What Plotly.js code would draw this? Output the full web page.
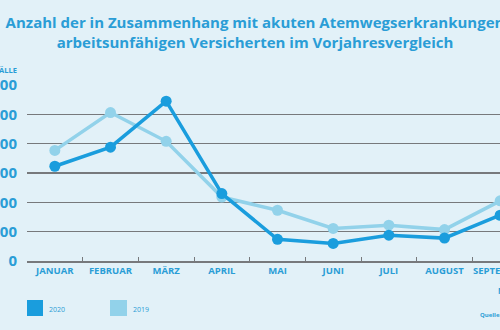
<!DOCTYPE html>
<html>
<head>
<meta charset="utf-8">
<script src="https://cdn.plot.ly/plotly-3.0.1.min.js"></script>
<style>
html,body{margin:0;padding:0;width:500px;height:330px;overflow:hidden;background:#e2f1f8;}
#chart{position:absolute;left:-30px;top:0;width:570px;height:330px;}
</style>
</head>
<body>
<div id="chart"></div>
<script>
const months = ["JANUAR","FEBRUAR","MÄRZ","APRIL","MAI","JUNI","JULI","AUGUST","SEPTEMBER"];
const series2020 = [323, 388, 545, 230, 74, 60, 88, 78, 156];
const series2019 = [377, 506, 408, 218, 173, 111, 122, 107, 205];
const yTickVals = [0, 100, 200, 300, 400, 500, 600];
const yTickText = ["0", "100", "200", "300", "400", "500", "600"];
const seriesNames = ["2020", "2019"];

const W = 570, H = 330, ML = 57, MR = 12, MT = 85, MB = 69;
const fx = x => (x - ML) / (W - ML - MR);
const fy = y => (H - MB - y) / (H - MT - MB);
const off = 30; // page offset

const c2020 = "#1a9ddd", c2019 = "#92d2ea", textC = "#2a9dd6";
const font = "Open Sans, Lato, sans-serif";

const traces = [
  {x: months, y: series2019, name: seriesNames[1], type: "scatter", mode: "lines+markers",
   line: {color: c2019, width: 3.5}, marker: {color: c2019, size: 11}, cliponaxis: false, showlegend: false},
  {x: months, y: series2020, name: seriesNames[0], type: "scatter", mode: "lines+markers",
   line: {color: c2020, width: 3.5}, marker: {color: c2020, size: 11}, cliponaxis: false, showlegend: false}
];

const layout = {
  width: W, height: H,
  margin: {l: ML, r: MR, t: MT, b: MB, pad: 0},
  paper_bgcolor: "#e2f1f8", plot_bgcolor: "#e2f1f8",
  title: {text: "<b>Anzahl der in Zusammenhang mit akuten Atemwegserkrankungen<br>arbeitsunfähigen Versicherten im Vorjahresvergleich</b>",
    font: {family: font, size: 15, color: textC}, x: 0.5, xref: "container", xanchor: "center",
    y: 1 - 28 / H, yref: "container", yanchor: "top"},
  xaxis: {type: "category", range: [-0.5, 8.5], showgrid: false, zeroline: false,
    showline: true, linecolor: "#77797c", linewidth: 1.5,
    ticks: "inside", ticklen: 4, tickcolor: "#77797c", tickwidth: 1, tickson: "boundaries",
    tickangle: 0,
    tickfont: {family: font, size: 9.5, color: textC, weight: "bold"}},
  yaxis: {range: [0, 600], tickvals: yTickVals, ticktext: yTickText, showgrid: true,
    gridcolor: "#77797c", gridwidth: 1.5, zeroline: false, showline: false, ticks: "",
    ticklabelstandoff: 9,
    tickfont: {family: font, size: 15, color: textC, weight: "bold"}},
  showlegend: false,
  shapes: [
    {type: "rect", xref: "paper", yref: "paper", x0: fx(27 + off), x1: fx(43 + off), y0: fy(316), y1: fy(300), fillcolor: c2020, line: {width: 0}},
    {type: "rect", xref: "paper", yref: "paper", x0: fx(110 + off), x1: fx(127 + off), y0: fy(316), y1: fy(300), fillcolor: c2019, line: {width: 0}}
  ],
  annotations: [
    {text: seriesNames[0], xref: "paper", yref: "paper", x: fx(47 + off), y: fy(309), xanchor: "left", yanchor: "middle", showarrow: false,
     font: {family: font, size: 7, color: textC}},
    {text: seriesNames[1], xref: "paper", yref: "paper", x: fx(131 + off), y: fy(309), xanchor: "left", yanchor: "middle", showarrow: false,
     font: {family: font, size: 7, color: textC}},
    {text: "<b>FÄLLE</b>", xref: "paper", yref: "paper", x: fx(19 + off), y: fy(70), xanchor: "right", yanchor: "middle", showarrow: false,
     font: {family: font, size: 7.5, color: textC}},
    {text: "<b>MONAT</b>", xref: "paper", yref: "paper", x: fx(496 + off), y: fy(290), xanchor: "left", yanchor: "middle", showarrow: false,
     font: {family: font, size: 8, color: textC}},
    {text: "<b>Quelle:</b>", xref: "paper", yref: "paper", x: fx(478 + off), y: fy(315), xanchor: "left", yanchor: "middle", showarrow: false,
     font: {family: font, size: 6, color: textC}}
  ]
};

Plotly.newPlot("chart", traces, layout, {displayModeBar: false, staticPlot: true});
</script>
</body>
</html>
